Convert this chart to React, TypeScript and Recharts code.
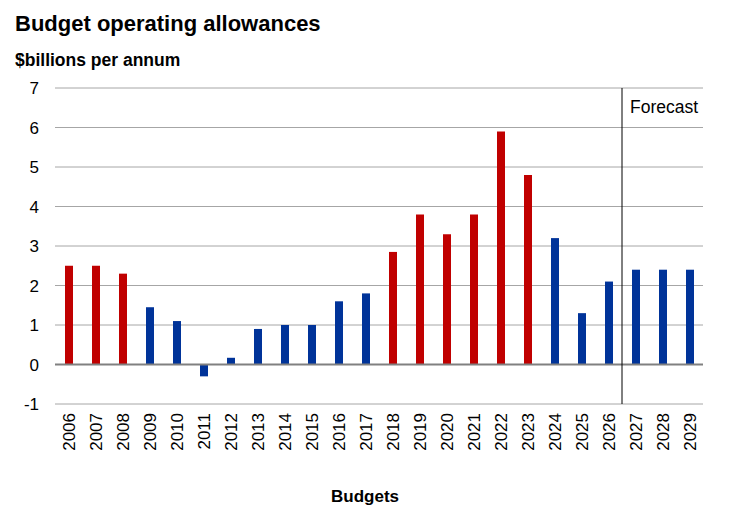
import React from "react";
import { BarChart, Bar, XAxis, YAxis, CartesianGrid, ReferenceLine, Cell, Label } from "recharts";

const years = [
  "2006", "2007", "2008", "2009", "2010", "2011", "2012", "2013", "2014", "2015", "2016", "2017",
  "2018", "2019", "2020", "2021", "2022", "2023", "2024", "2025", "2026", "2027", "2028", "2029",
];
const allowances = [
  2.5, 2.5, 2.3, 1.45, 1.1, -0.3, 0.17, 0.9, 1.0, 1.0, 1.6, 1.8,
  2.85, 3.8, 3.3, 3.8, 5.9, 4.8, 3.2, 1.3, 2.1, 2.4, 2.4, 2.4,
];
// "red" marks the 2018–2023 budgets and 2006–2008; the rest are "blue"
const colourGroup = [
  "red", "red", "red", "blue", "blue", "blue", "blue", "blue", "blue", "blue", "blue", "blue",
  "red", "red", "red", "red", "red", "red", "blue", "blue", "blue", "blue", "blue", "blue",
];
const yTicks = [-1, 0, 1, 2, 3, 4, 5, 6, 7];
const forecastStart = "2027";

const COLOURS: Record<string, string> = { red: "#C00000", blue: "#003399" };
const FONT = "'Liberation Sans', Arial, sans-serif";

const data = years.map((year, i) => ({ year, value: allowances[i], group: colourGroup[i] }));

export default function App() {
  return (
    <div style={{ position: "absolute", left: 0, top: 0, width: 745, height: 517, background: "#fff", fontFamily: FONT }}>
      <div style={{ position: "absolute", left: 15, top: 11, fontSize: 22, fontWeight: "bold", color: "#000", whiteSpace: "nowrap" }}>
        Budget operating allowances
      </div>
      <div style={{ position: "absolute", left: 15, top: 50, fontSize: 17.5, fontWeight: "bold", color: "#000", whiteSpace: "nowrap" }}>
        $billions per annum
      </div>
      <BarChart
        width={745}
        height={517}
        data={data}
        margin={{ top: 88, right: 42, bottom: 0, left: 10 }}
        barCategoryGap={0}
      >
        <CartesianGrid vertical={false} stroke="#A6A6A6" strokeWidth={1} />
        <XAxis
          dataKey="year"
          interval={0}
          axisLine={false}
          tickLine={false}
          height={113}
          tickSize={0}
          tickMargin={9}
          angle={-90}
          textAnchor="end"
          dx={-6}
          tick={{ fontSize: 17, fill: "#000", fontFamily: FONT }}
        >
          <Label
            value="Budgets"
            position="insideBottom"
            offset={15}
            dx={-14}
            style={{ fontSize: 17, fontWeight: "bold", fill: "#000", fontFamily: FONT }}
          />
        </XAxis>
        <YAxis
          domain={[-1, 7]}
          ticks={yTicks}
          interval={0}
          width={45}
          axisLine={false}
          tickLine={false}
          tickSize={0}
          tickMargin={16}
          tick={{ fontSize: 17, fill: "#000", fontFamily: FONT }}
        />
        <ReferenceLine y={0} stroke="#808080" strokeWidth={2} />
        <ReferenceLine x={forecastStart} position="start" stroke="#000" strokeWidth={1}>
          <Label
            value="Forecast"
            position="insideTopLeft"
            offset={8}
            dy={5}
            style={{ fontSize: 17.5, fill: "#000", fontFamily: FONT }}
          />
        </ReferenceLine>
        <Bar dataKey="value" barSize={8} isAnimationActive={false}>
          {data.map((d) => (
            <Cell key={d.year} fill={COLOURS[d.group]} />
          ))}
        </Bar>
      </BarChart>
    </div>
  );
}
